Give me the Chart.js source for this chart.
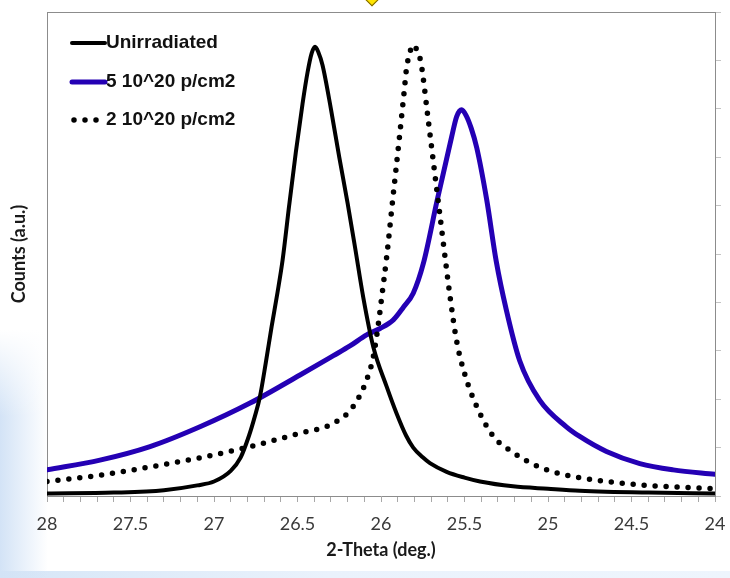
<!DOCTYPE html>
<html>
<head>
<meta charset="utf-8">
<script src="https://cdn.jsdelivr.net/npm/chart.js@4.4.1/dist/chart.umd.min.js"></script>
<style>
    html, body { margin: 0; padding: 0; background: #fff; }
    #wrap { position: relative; width: 730px; height: 578px; overflow: hidden; }
    .bg-bottom { position: absolute; left: 0; right: 0; top: 571px; bottom: 0;
        background: linear-gradient(90deg, #d6e6f7, #eaf2fc 45%, #eef5fd); }
    .bg-left { position: absolute; left: 0; top: 330px; width: 48px; height: 248px;
        background: linear-gradient(180deg, #fff 0%, rgba(255,255,255,0) 35%),
                    linear-gradient(90deg, #d3e3f6, rgba(255,255,255,0)); }
    .marker { position: absolute; left: 366px; top: -8px; width: 10px; height: 10px;
        background: #ffe400; border: 1px solid #7a6200; transform: rotate(45deg); }
    canvas { position: absolute; left: 0; top: 0; }
</style>
</head>
<body>
<div id="wrap">
    <div class="bg-bottom"></div>
    <div class="bg-left"></div>
    <div class="marker"></div>
    <canvas id="xrd" width="730" height="578"></canvas>
</div>
<script>
// 2-theta positions (deg.) and counts (a.u.)
const unirrTheta  = [28, 27.6, 27.3, 27.1, 27.0, 26.9, 26.84, 26.79, 26.755, 26.725, 26.69, 26.655, 26.62, 26.589,
                     26.55, 26.51, 26.47, 26.44, 26.415, 26.395, 26.375, 26.35, 26.3, 26.25, 26.2, 26.156, 26.106,
                     26.046, 25.966, 25.906, 25.85, 25.807, 25.75, 25.707, 25.607, 25.5, 25.407, 25.21, 25.0, 24.81, 24.4, 24];
const unirrCounts = [0.05, 0.07, 0.12, 0.22, 0.3, 0.52, 0.8, 1.25, 1.65, 2.05, 2.75, 3.5, 4.2, 4.88,
                     6.0, 7.1, 8.1, 8.75, 9.15, 9.28, 9.17, 8.9, 8.0, 7.0, 6.05, 5.15, 4.1,
                     3.08, 2.26, 1.7, 1.25, 1.0, 0.8, 0.68, 0.5, 0.38, 0.3, 0.2, 0.15, 0.11, 0.07, 0.05];

const high5Theta  = [28, 27.683, 27.383, 27.084, 26.784, 26.485, 26.285, 26.186, 26.086, 26.006, 25.926, 25.866,
                     25.807, 25.746, 25.663, 25.577, 25.547, 25.517, 25.49, 25.46, 25.427, 25.367, 25.31, 25.25, 25.17,
                     25.05, 24.89, 24.81, 24.65, 24.45, 24.25, 24];
const high5Counts = [0.54, 0.74, 1.02, 1.43, 1.92, 2.5, 2.9, 3.1, 3.33, 3.46, 3.64, 3.9,
                     4.19, 4.81, 6.12, 7.42, 7.84, 7.98, 7.86, 7.6, 7.2, 6.12, 4.85, 3.85, 2.8,
                     1.98, 1.43, 1.23, 0.92, 0.67, 0.54, 0.45];

const low2Theta   = [28, 27.683, 27.383, 27.084, 26.784, 26.485, 26.285, 26.166, 26.086, 26.046, 26.016, 25.996,
                     25.966, 25.93, 25.89, 25.86, 25.846, 25.83, 25.812, 25.79, 25.777, 25.76, 25.72, 25.68,
                     25.64, 25.612, 25.587, 25.547, 25.497, 25.427, 25.327, 25.217, 25.098, 24.968, 24.848,
                     24.449, 24.05, 24];
const low2Counts  = [0.30, 0.43, 0.6, 0.79, 1.02, 1.3, 1.5, 1.85, 2.4, 2.88, 3.55, 4.1,
                     4.94, 6.12, 7.4, 8.4, 8.87, 9.11, 9.32, 9.25, 9.15, 8.94, 7.85, 6.72,
                     5.6, 4.81, 4.13, 3.2, 2.5, 1.85, 1.23, 0.92, 0.67, 0.5, 0.4,
                     0.23, 0.16, 0.15];

const seriesLabels = ['Unirradiated', '5 10^20 p/cm2', '2 10^20 p/cm2'];

function toPoints(xs, ys) {
    return xs.map((x, i) => ({ x: x, y: ys[i] }));
}

// white plot area + top frame line
const plotFrame = {
    id: 'plotFrame',
    beforeDraw(chart) {
        const { ctx, chartArea: a } = chart;
        ctx.save();
        ctx.fillStyle = '#fff';
        ctx.fillRect(a.left, a.top, a.right - a.left, a.bottom - a.top);
        ctx.restore();
    },
    afterDraw(chart) {
        const { ctx, chartArea: a } = chart;
        ctx.save();
        ctx.strokeStyle = '#8c8c8c';
        ctx.lineWidth = 1;
        ctx.beginPath();
        ctx.moveTo(a.left, a.top + 0.5);
        ctx.lineTo(a.right, a.top + 0.5);
        ctx.stroke();
        ctx.restore();
    }
};

// legend drawn inside the plot, top left
const insideLegend = {
    id: 'insideLegend',
    afterDraw(chart) {
        const { ctx, chartArea: a } = chart;
        const rowsY = [31, 70, 108];
        ctx.save();
        chart.data.datasets.forEach((ds, i) => {
            const y = a.top + rowsY[i];
            const x0 = a.left + 25;
            ctx.strokeStyle = ds.borderColor;
            ctx.lineWidth = ds.borderWidth;
            ctx.lineCap = ds.borderCapStyle;
            ctx.setLineDash(ds.borderDash);
            ctx.beginPath();
            if (ds.borderDash.length) {
                ctx.moveTo(x0 + 2, y);
                ctx.lineTo(x0 + 32, y);
            } else {
                ctx.moveTo(x0, y);
                ctx.lineTo(x0 + 33, y);
            }
            ctx.stroke();
            ctx.setLineDash([]);
            ctx.fillStyle = '#111';
            ctx.font = 'bold 19px "Liberation Sans", Arial, sans-serif';
            ctx.textBaseline = 'middle';
            ctx.fillText(ds.label, x0 + 34, y);
        });
        ctx.restore();
    }
};

const axisColor = '#8c8c8c';

new Chart(document.getElementById('xrd').getContext('2d'), {
    type: 'line',
    data: {
        datasets: [
            {
                label: seriesLabels[0],
                data: toPoints(unirrTheta, unirrCounts),
                borderColor: '#000',
                borderWidth: 4,
                borderCapStyle: 'round',
                borderJoinStyle: 'round',
                borderDash: [],
                order: 0
            },
            {
                label: seriesLabels[1],
                data: toPoints(high5Theta, high5Counts),
                borderColor: '#2400b4',
                borderWidth: 5,
                borderCapStyle: 'round',
                borderJoinStyle: 'round',
                borderDash: [],
                order: 2
            },
            {
                label: seriesLabels[2],
                data: toPoints(low2Theta, low2Counts),
                borderColor: '#000',
                borderWidth: 5.5,
                borderCapStyle: 'round',
                borderJoinStyle: 'round',
                borderDash: [0, 11],
                order: 1
            }
        ]
    },
    options: {
        responsive: false,
        animation: false,
        devicePixelRatio: 1,
        layout: { padding: { top: 12, left: 0, right: 0, bottom: 0 } },
        plugins: {
            legend: { display: false },
            tooltip: { enabled: false }
        },
        elements: {
            point: { radius: 0 },
            line: { cubicInterpolationMode: 'monotone', fill: false }
        },
        scales: {
            x: {
                type: 'linear',
                reverse: true,
                min: 24,
                max: 28,
                ticks: {
                    stepSize: 0.1,
                    autoSkip: false,
                    maxRotation: 0,
                    padding: 11,
                    color: '#3a3a3a',
                    font: { family: 'Lato', size: 18 },
                    callback: v => Math.abs(v * 2 - Math.round(v * 2)) < 1e-6 ? String(Math.round(v * 2) / 2) : ''
                },
                grid: { drawOnChartArea: false, drawTicks: true, tickLength: 6, color: '#a8a8a8' },
                border: { color: axisColor },
                title: {
                    display: true,
                    text: '2-Theta (deg.)',
                    color: '#1a1a1a',
                    font: { family: 'Lato', size: 18, weight: 'bold' },
                    padding: { top: 0, bottom: 17 }
                },
                afterFit: s => {
                    s.height = 82;
                    s.paddingLeft = 0;
                    s.paddingRight = 0;
                }
            },
            y: {
                min: 0,
                max: 10,
                ticks: { display: false },
                grid: { display: false },
                border: { display: true, color: axisColor },
                title: {
                    display: true,
                    text: 'Counts (a.u.)',
                    color: '#1a1a1a',
                    font: { family: 'Lato', size: 18, weight: 'bold' },
                    padding: { top: 8, bottom: 0 }
                },
                afterFit: s => { s.width = 47; }
            },
            y2: {
                position: 'right',
                min: 0,
                max: 10,
                ticks: { display: false, stepSize: 1 },
                grid: { drawOnChartArea: false, drawTicks: true, tickLength: 6, color: '#c4c4c4' },
                border: { display: true, color: axisColor },
                afterFit: s => { s.width = 15; }
            }
        }
    },
    plugins: [plotFrame, insideLegend]
});
</script>
</body>
</html>
